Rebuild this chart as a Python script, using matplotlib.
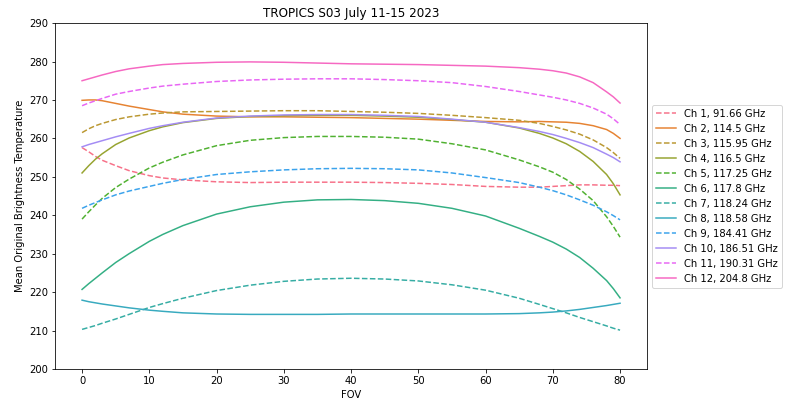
import matplotlib
matplotlib.use("Agg")
import matplotlib.pyplot as plt
import seaborn as sns
import numpy as np

fov = [0, 1, 2, 3, 5, 7, 10, 12, 15, 20, 25, 30, 35, 40, 45, 50, 55, 60, 65,
       68, 70, 72, 74, 76, 78, 79, 80]

labels = ["Ch 1, 91.66 GHz", "Ch 2, 114.5 GHz", "Ch 3, 115.95 GHz", "Ch 4, 116.5 GHz",
          "Ch 5, 117.25 GHz", "Ch 6, 117.8 GHz", "Ch 7, 118.24 GHz", "Ch 8, 118.58 GHz",
          "Ch 9, 184.41 GHz", "Ch 10, 186.51 GHz", "Ch 11, 190.31 GHz", "Ch 12, 204.8 GHz"]

# mean Tb per FOV, one list per channel
ch1 = [257.6, 256.5, 255.3, 254.3, 252.9, 251.6, 250.3, 249.7, 249.2, 248.7, 248.5, 248.6, 248.6, 248.6,
       248.5, 248.3, 248.0, 247.5, 247.3, 247.3, 247.5, 247.7, 247.9, 247.9, 247.8, 247.8, 247.7]
ch2 = [269.9, 270.0, 270.0, 269.8, 269.1, 268.4, 267.5, 266.9, 266.3, 265.8, 265.6, 265.6, 265.5, 265.4,
       265.2, 265.0, 264.7, 264.4, 264.3, 264.4, 264.3, 264.2, 263.9, 263.3, 262.3, 261.3, 260.0]
ch3 = [261.5, 262.5, 263.3, 263.9, 264.9, 265.6, 266.3, 266.6, 266.9, 267.0, 267.1, 267.2, 267.2, 267.0,
       266.8, 266.5, 266.0, 265.4, 264.7, 263.9, 263.1, 262.2, 261.1, 259.6, 257.6, 256.3, 254.8]
ch4 = [251.0, 252.9, 254.6, 256.0, 258.4, 260.1, 262.0, 263.0, 264.1, 265.2, 265.7, 265.9, 266.0, 266.0,
       265.8, 265.5, 264.9, 264.2, 262.7, 261.3, 260.1, 258.6, 256.6, 254.0, 250.6, 248.2, 245.3]
ch5 = [239.0, 240.9, 242.7, 244.4, 247.2, 249.4, 252.3, 253.8, 255.7, 258.1, 259.5, 260.2, 260.5, 260.5,
       260.3, 259.8, 258.6, 257.0, 254.4, 252.6, 251.2, 249.3, 246.8, 243.8, 239.6, 237.1, 234.3]
ch6 = [220.7, 222.2, 223.6, 225.0, 227.7, 230.0, 233.2, 235.0, 237.3, 240.3, 242.2, 243.4, 244.0, 244.1,
       243.8, 243.1, 241.8, 239.8, 236.6, 234.5, 233.0, 231.2, 229.0, 226.2, 223.0, 220.9, 218.5]
ch7 = [210.3, 210.8, 211.3, 211.9, 213.0, 214.2, 216.0, 217.0, 218.4, 220.4, 221.8, 222.8, 223.4, 223.6,
       223.4, 222.9, 221.9, 220.5, 218.4, 216.8, 215.7, 214.6, 213.4, 212.3, 211.2, 210.6, 210.1]
ch8 = [217.9, 217.5, 217.2, 216.9, 216.4, 215.9, 215.3, 215.0, 214.6, 214.3, 214.2, 214.2, 214.2, 214.3,
       214.3, 214.3, 214.3, 214.3, 214.4, 214.6, 214.8, 215.1, 215.5, 216.0, 216.5, 216.8, 217.1]
ch9 = [241.8, 242.6, 243.3, 244.0, 245.3, 246.3, 247.5, 248.3, 249.3, 250.6, 251.3, 251.8, 252.1, 252.2,
       252.1, 251.8, 251.0, 249.8, 248.5, 247.3, 246.4, 245.3, 244.0, 242.6, 240.9, 239.9, 238.8]
ch10 = [257.8, 258.4, 258.9, 259.4, 260.4, 261.3, 262.6, 263.3, 264.2, 265.3, 265.8, 266.1, 266.2, 266.2,
        266.0, 265.7, 265.0, 264.2, 262.8, 261.8, 261.0, 260.0, 258.9, 257.6, 255.9, 255.0, 253.9]
ch11 = [268.5, 269.2, 269.8, 270.4, 271.5, 272.2, 273.1, 273.6, 274.1, 274.8, 275.2, 275.4, 275.5, 275.5,
        275.3, 275.0, 274.5, 273.5, 272.2, 271.3, 270.7, 270.0, 269.1, 267.9, 266.3, 265.1, 263.6]
ch12 = [275.0, 275.5, 276.0, 276.5, 277.4, 278.1, 278.8, 279.2, 279.5, 279.8, 279.9, 279.8, 279.6, 279.4,
        279.3, 279.2, 279.0, 278.8, 278.4, 278.0, 277.6, 277.0, 276.0, 274.5, 272.1, 270.8, 269.2]

tb = [ch1, ch2, ch3, ch4, ch5, ch6, ch7, ch8, ch9, ch10, ch11, ch12]
colors = sns.color_palette("husl", len(tb))

fig = plt.figure(figsize=(788/72., 405/72.), dpi=72)
ax = fig.add_axes([0.070, 0.089, 0.751, 0.854])
for i in range(len(tb)):
    ls = '--' if i % 2 == 0 else '-'
    ax.plot(fov, tb[i], ls=ls, color=colors[i], lw=1.5, label=labels[i])

ax.set_ylim(200, 290)
ax.set_xlabel('FOV')
ax.set_ylabel('Mean Original Brightness Temperature')
ax.set_title('TROPICS S03 July 11-15 2023')
ax.legend(loc='center left', bbox_to_anchor=(1.0, 0.5))
fig.savefig('out.png', dpi=72)
